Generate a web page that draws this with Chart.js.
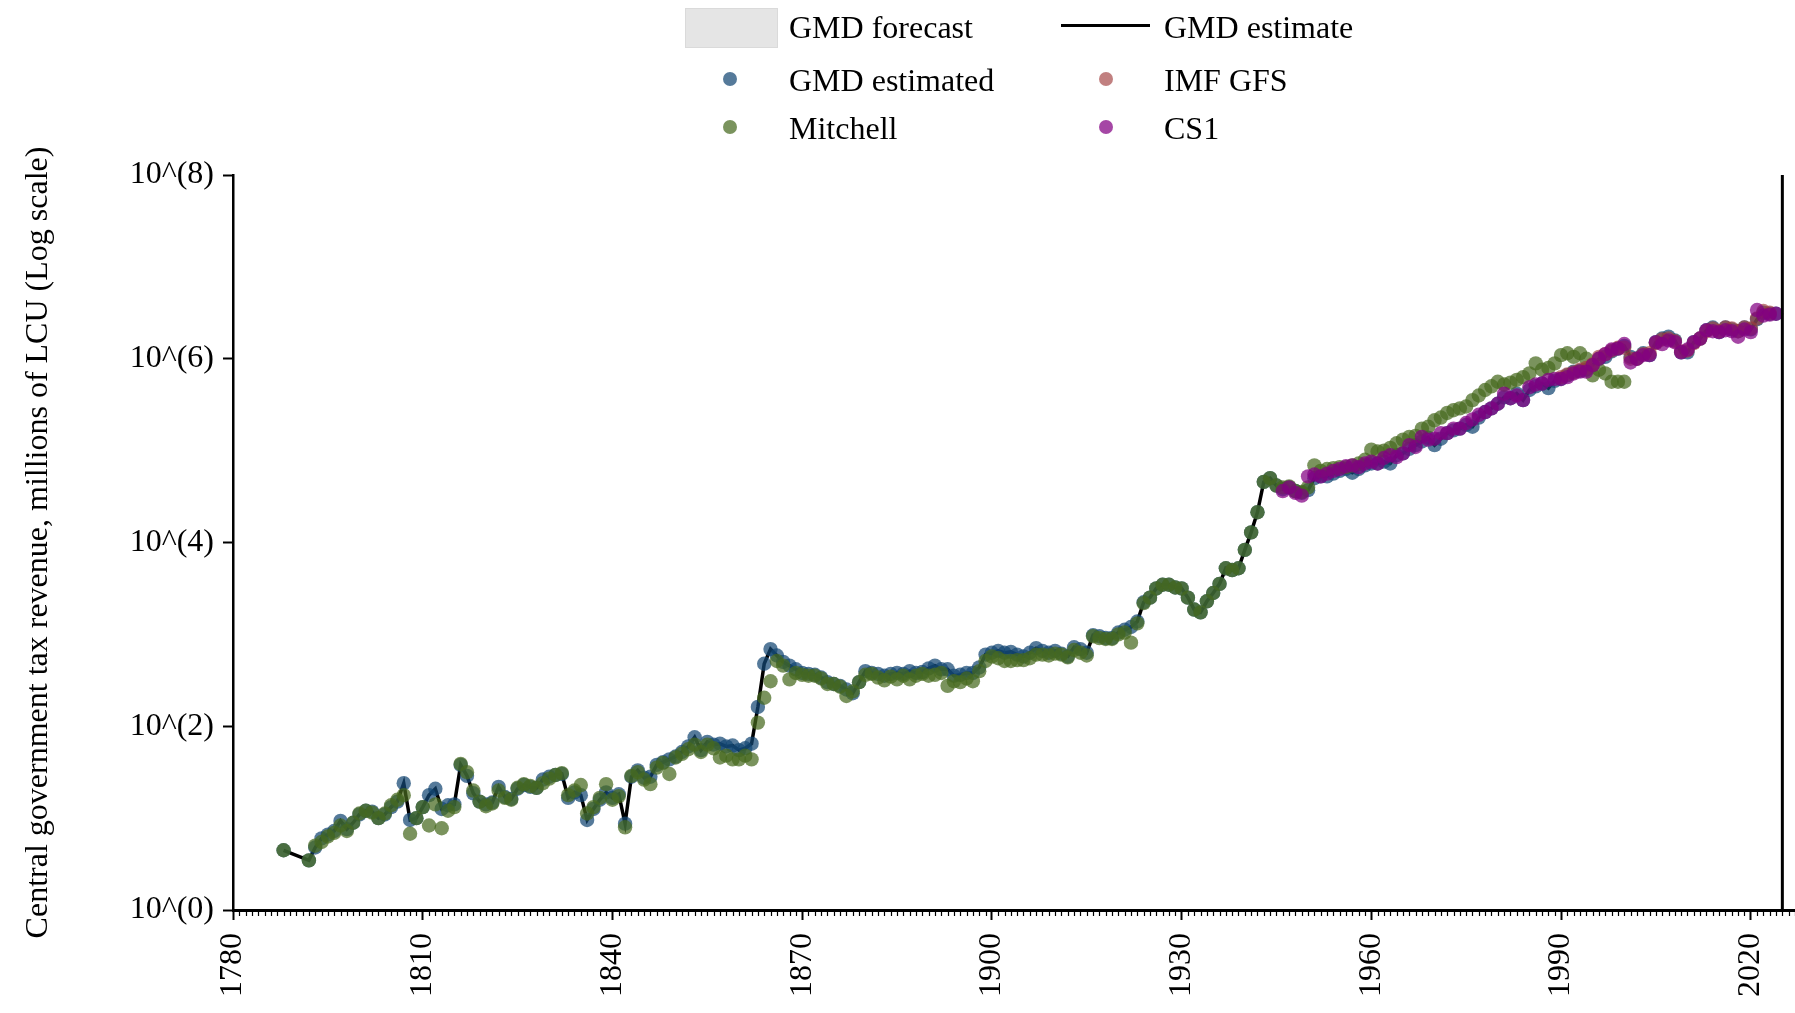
<!DOCTYPE html>
<html>
<head>
<meta charset="utf-8">
<script src="https://cdn.jsdelivr.net/npm/chart.js@4.4.0/dist/chart.umd.min.js"></script>
<style>
  body { margin: 0; background: #fff; }
  #wrap { position: relative; width: 1795px; height: 1013px; font-family: 'Liberation Serif', 'Times New Roman', serif; }
  #chart { position: absolute; left: 0; top: 0; }
  .lg { position: absolute; font-size: 32px; line-height: 36px; transform: translateY(-50%); white-space: nowrap; color: #000; }
  .dot { position: absolute; width: 14px; height: 14px; border-radius: 50%; transform: translate(-50%, -50%); }
  .box { position: absolute; background: #e5e5e5; box-sizing: border-box; border: 1px solid #dadada; }
  .bar { position: absolute; background: #000; }
</style>
</head>
<body>
<div id="wrap">
  <canvas id="chart" width="1795" height="1013"></canvas>

  <div class="box" style="left:685px;top:8px;width:93px;height:40px;"></div>
  <div class="lg" style="left:789px;top:27px;">GMD forecast</div>
  <div class="bar" style="left:1061px;top:24px;width:89px;height:3px;"></div>
  <div class="lg" style="left:1164px;top:27px;">GMD estimate</div>

  <div class="dot" style="left:730px;top:79px;background:rgba(20,70,115,0.72);"></div>
  <div class="lg" style="left:789px;top:80px;">GMD estimated</div>
  <div class="dot" style="left:1106px;top:79px;background:rgba(160,60,60,0.65);"></div>
  <div class="lg" style="left:1164px;top:80px;">IMF GFS</div>

  <div class="dot" style="left:730px;top:127px;background:rgba(70,105,30,0.72);"></div>
  <div class="lg" style="left:789px;top:128px;">Mitchell</div>
  <div class="dot" style="left:1106px;top:127px;background:rgba(130,0,130,0.72);"></div>
  <div class="lg" style="left:1164px;top:128px;">CS1</div>
</div>

<script>
// values are log10 of revenue (millions of LCU), one per year from the start year
const gmdStart = 1788;
const gmdEstimate = [
  0.65, null, null, null, 0.54, 0.68, 0.78, 0.82, 0.86, 0.97, 0.88, 0.95,   // 1788-1799
  1.04, 1.08, 1.07, 1.00, 1.04, 1.12, 1.18, 1.38, 0.98, 1.00,               // 1800s
  1.12, 1.25, 1.32, 1.10, 1.14, 1.15, 1.58, 1.46, 1.27, 1.18,               // 1810s
  1.15, 1.17, 1.34, 1.23, 1.21, 1.32, 1.36, 1.34, 1.33, 1.42,               // 1820s
  1.45, 1.47, 1.48, 1.22, 1.28, 1.25, 0.98, 1.10, 1.20, 1.28,               // 1830s
  1.22, 1.26, 0.94, 1.45, 1.52, 1.44, 1.45, 1.58, 1.61, 1.64,               // 1840s
  1.67, 1.72, 1.78, 1.88, 1.74, 1.83, 1.80, 1.81, 1.78, 1.79,               // 1850s
  1.74, 1.76, 1.81, 2.21, 2.68, 2.84, 2.77, 2.70, 2.66, 2.62,               // 1860s
  2.58, 2.57, 2.56, 2.53, 2.48, 2.46, 2.44, 2.40, 2.36, 2.48,               // 1870s
  2.60, 2.58, 2.57, 2.55, 2.57, 2.58, 2.57, 2.60, 2.58, 2.59,               // 1880s
  2.63, 2.66, 2.62, 2.62, 2.55, 2.56, 2.58, 2.58, 2.64, 2.78,               // 1890s
  2.80, 2.82, 2.80, 2.81, 2.78, 2.76, 2.80, 2.85, 2.82, 2.80,               // 1900s
  2.82, 2.79, 2.76, 2.86, 2.84, 2.80, 2.99, 2.98, 2.96, 2.96,               // 1910s
  3.02, 3.05, 3.08, 3.14, 3.35, 3.40, 3.50, 3.54, 3.54, 3.51,               // 1920s
  3.50, 3.40, 3.27, 3.24, 3.36, 3.45, 3.55, 3.72, 3.70, 3.72,               // 1930s
  3.92, 4.11, 4.33, 4.66, 4.70, 4.62, 4.58, 4.60, 4.56, 4.54,               // 1940s
  4.57, 4.70, 4.72, 4.72, 4.75, 4.78, 4.80, 4.76, 4.80, 4.84,               // 1950s
  4.86, 4.86, 4.88, 4.86, 4.95, 4.97, 5.02, 5.06, 5.10, 5.14,               // 1960s
  5.06, 5.13, 5.19, 5.22, 5.24, 5.28, 5.26, 5.36, 5.42, 5.46,               // 1970s
  5.51, 5.58, 5.57, 5.62, 5.55, 5.66, 5.70, 5.73, 5.68, 5.76,               // 1980s
  5.78, 5.82, 5.86, 5.87, 5.88, 5.93, 6.00, 6.02, 6.08, 6.11,               // 1990s
  6.14, 6.02, 6.00, 6.06, 6.04, 6.18, 6.22, 6.24, 6.20, 6.07,               // 2000s
  6.07, 6.18, 6.22, 6.31, 6.34, 6.29, 6.34, 6.32, 6.30, 6.34,               // 2010s
  6.32, 6.43, 6.50, 6.49, 6.49                                              // 2020-2024
];

const mitchellStart = 1788;
const mitchell = [
  0.65, null, null, null, 0.54, 0.70, 0.74, 0.80, 0.84, 0.92, 0.86, 0.95,   // 1788-1799
  1.05, 1.08, 1.06, 1.00, 1.05, 1.14, 1.20, 1.25, 0.83, 1.00,
  1.12, 0.92, 1.15, 0.89, 1.08, 1.12, 1.59, 1.50, 1.30, 1.18,
  1.13, 1.16, 1.30, 1.22, 1.20, 1.33, 1.37, 1.35, 1.33, 1.38,
  1.43, 1.47, 1.49, 1.25, 1.30, 1.36, 1.05, 1.12, 1.22, 1.37,
  1.20, 1.24, 0.90, 1.46, 1.50, 1.42, 1.37, 1.55, 1.60, 1.48,
  1.66, 1.70, 1.75, 1.80, 1.72, 1.80, 1.76, 1.66, 1.68, 1.64,
  1.64, 1.68, 1.64, 2.04, 2.31, 2.49, 2.71, 2.66, 2.51, 2.58,
  2.56, 2.55, 2.55, 2.52, 2.46, 2.46, 2.43, 2.33, 2.38, 2.48,
  2.56, 2.57, 2.53, 2.50, 2.54, 2.51, 2.55, 2.51, 2.55, 2.57,
  2.55, 2.56, 2.58, 2.44, 2.49, 2.48, 2.52, 2.49, 2.60, 2.71,
  2.76, 2.74, 2.71, 2.71, 2.72, 2.72, 2.74, 2.78, 2.78, 2.77,
  2.79, 2.78, 2.75, 2.83, 2.80, 2.77, 2.98, 2.96, 2.95, 2.95,
  3.00, 3.02, 2.91, 3.12, 3.34, 3.40, 3.50, 3.54, 3.54, 3.51,
  3.50, 3.40, 3.27, 3.24, 3.36, 3.45, 3.55, 3.72, 3.70, 3.72,
  3.92, 4.11, 4.33, 4.66, 4.70, 4.62, 4.60, 4.61, 4.56, 4.55,
  4.60, 4.84, 4.78, 4.80, 4.81, 4.82, 4.82, 4.84, 4.86, 4.90,
  5.01, 4.99, 5.00, 5.03, 5.08, 5.12, 5.15, 5.16, 5.24, 5.26,
  5.33, 5.36, 5.41, 5.44, 5.46, 5.48, 5.55, 5.60, 5.66, 5.70,
  5.75, 5.72, 5.74, 5.77, 5.80, 5.84, 5.95, 5.88, 5.90, 5.95,
  6.04, 6.06, 6.02, 6.06, 6.00, 5.82, 5.88, 5.84, 5.75, 5.75,
  5.75                                                                      // 2000
];

const cs1Start = 1946;
const cs1 = [
  4.56, 4.60, 4.54, 4.51,                                                   // 1946-1949
  4.72, 4.74, 4.72, 4.75, 4.78, 4.80, 4.83, 4.84, 4.82, 4.86,
  4.88, 4.86, 4.92, 4.95, 4.93, 4.97, 5.06, 5.04, 5.15, 5.12,
  5.13, 5.19, 5.19, 5.24, 5.24, 5.30, 5.34, 5.39, 5.42, 5.46,
  5.51, 5.62, 5.57, 5.60, 5.55, 5.69, 5.72, 5.73, 5.77, 5.78,
  5.78, 5.80, 5.84, 5.86, 5.86, 5.93, 6.00, 6.05, 6.10, 6.11,
  6.16, 5.96, 6.00, 6.04, 6.04, 6.18, 6.16, 6.20, 6.18, 6.07,
  6.10, 6.18, 6.22, 6.31, 6.30, 6.29, 6.31, 6.30, 6.24, 6.32,
  6.29, 6.53, 6.47, 6.48, 6.49                                              // 2020-2024
];

const imfStart = 1990;
const imfGfs = [
  5.80, 5.83, 5.85, 5.88, 5.90, 5.94, 6.02, 6.05, 6.09, 6.12,
  6.12, 6.00, 6.00, 6.05, 6.06, 6.17, 6.21, 6.22, 6.19, 6.08,
  6.09, 6.17, 6.22, 6.30, 6.33, 6.30, 6.34, 6.33, 6.30, 6.34,
  6.33, 6.44, 6.52, 6.50                                                    // 2020-2023
];

const xTickYears = [1780, 1810, 1840, 1870, 1900, 1930, 1960, 1990, 2020];
const yTickExps = [0, 2, 4, 6, 8];
const forecastYear = 2025;

function toPoints(start, values) {
  return values.map((v, i) => ({ x: start + i, y: v === null ? null : Math.pow(10, v) }));
}

const FONT = "'Liberation Serif', 'Times New Roman', serif";

// minor year ticks on the x axis and the forecast boundary line
const extras = {
  id: 'extras',
  afterDraw(chart) {
    const { ctx, chartArea } = chart;
    const x = chart.scales.x;
    ctx.save();
    ctx.strokeStyle = '#000';
    ctx.lineWidth = 1.2;
    for (let yr = 1780; yr <= 2027; yr++) {
      if (xTickYears.includes(yr)) continue;
      const px = Math.round(x.getPixelForValue(yr)) + 0.5;
      ctx.beginPath();
      ctx.moveTo(px, chartArea.bottom);
      ctx.lineTo(px, chartArea.bottom + 6);
      ctx.stroke();
    }
    const fx = x.getPixelForValue(forecastYear);
    ctx.lineWidth = 3;
    ctx.beginPath();
    ctx.moveTo(fx, chartArea.top);
    ctx.lineTo(fx, chartArea.bottom);
    ctx.stroke();
    ctx.restore();
  }
};

const dotStyle = { showLine: false, pointRadius: 7.2, pointBorderWidth: 0, pointHoverRadius: 7.2 };

new Chart(document.getElementById('chart'), {
  type: 'line',
  data: {
    datasets: [
      Object.assign({ label: 'CS1', data: toPoints(cs1Start, cs1),
        pointBackgroundColor: 'rgba(130,0,130,0.72)' }, dotStyle),
      Object.assign({ label: 'IMF GFS', data: toPoints(imfStart, imfGfs),
        pointBackgroundColor: 'rgba(160,60,60,0.65)' }, dotStyle),
      Object.assign({ label: 'Mitchell', data: toPoints(mitchellStart, mitchell),
        pointBackgroundColor: 'rgba(70,105,30,0.72)' }, dotStyle),
      Object.assign({ label: 'GMD estimated', data: toPoints(gmdStart, gmdEstimate),
        pointBackgroundColor: 'rgba(20,70,115,0.72)' }, dotStyle),
      {
        label: 'GMD estimate',
        data: toPoints(gmdStart, gmdEstimate),
        borderColor: '#000',
        borderWidth: 3.5,
        pointRadius: 0,
        spanGaps: true,
        tension: 0
      }
    ]
  },
  options: {
    responsive: false,
    animation: false,
    devicePixelRatio: 1,
    layout: { autoPadding: false, padding: { top: 175, right: 0, bottom: 0, left: 0 } },
    plugins: {
      legend: { display: false },
      tooltip: { enabled: false }
    },
    scales: {
      x: {
        type: 'linear',
        min: 1780,
        max: 2027,
        afterBuildTicks: (scale) => { scale.ticks = xTickYears.map(v => ({ value: v })); },
        afterFit: (scale) => { scale.height = 103; scale.paddingRight = 0; scale.paddingLeft = 0; },
        ticks: {
          autoSkip: false,
          minRotation: 90,
          maxRotation: 90,
          padding: 13,
          color: '#000',
          font: { family: FONT, size: 32 },
          callback: (v) => String(v)
        },
        grid: { drawOnChartArea: false, tickLength: 10, tickWidth: 2, tickColor: '#000' },
        border: { color: '#000', width: 3 }
      },
      y: {
        type: 'logarithmic',
        min: 1,
        max: 1e8,
        afterBuildTicks: (scale) => { scale.ticks = yTickExps.map(e => ({ value: Math.pow(10, e) })); },
        afterFit: (scale) => { scale.width = 233; },
        ticks: {
          padding: 9,
          color: '#000',
          font: { family: FONT, size: 32 },
          callback: (v) => '10^(' + Math.round(Math.log10(v)) + ')'
        },
        title: {
          display: true,
          text: 'Central government tax revenue, millions of LCU (Log scale)',
          color: '#000',
          font: { family: FONT, size: 32 },
          padding: { top: 19, bottom: 0 }
        },
        grid: { drawOnChartArea: false, tickLength: 10, tickWidth: 2, tickColor: '#000' },
        border: { color: '#000', width: 2.5 }
      }
    }
  },
  plugins: [extras]
});
</script>
</body>
</html>
